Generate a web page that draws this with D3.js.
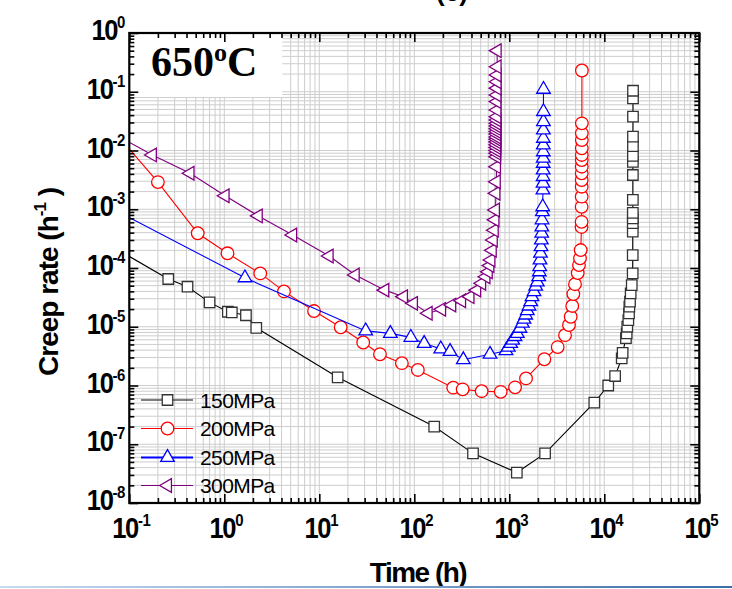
<!DOCTYPE html>
<html>
<head>
<meta charset="utf-8">
<script src="https://cdn.jsdelivr.net/npm/d3@7"></script>
<style>
body { margin: 0; background: #fff; }
svg { display: block; }
</style>
</head>
<body>
<svg id="chart" width="732" height="589"></svg>
<script>
// [time (h), creep rate (1/h)]
const s150 = [[0.07,2.2e-4],[0.257,6.5e-5],[0.41,4.8e-5],[0.70,2.6e-5],[1.09,1.8e-5],[1.2,1.75e-5],[1.69,1.57e-5],[2.17,9.6e-6],[15.6,1.38e-6],[162,2.0e-7],[415,7.0e-8],[1200,3.3e-8],[2380,7.0e-8],[7850,5.1e-7],[11000,1.0e-6],[13000,1.45e-6],[15250,2.9e-6],[15600,3.6e-6],[16900,6.4e-6],[17200,7.7e-6],[17450,1.0e-5],[17900,1.3e-5],[18200,1.69e-5],[18350,2.2e-5],[18650,2.67e-5],[18950,3.7e-5],[19450,5.1e-5],[19900,8.1e-5],[19920,1.66e-4],[19940,4.15e-4],[19950,5.8e-4],[19960,7.0e-4],[19970,8.7e-4],[19980,1.44e-3],[19990,3.83e-3],[20000,6.4e-3],[20010,8.1e-3],[20020,1.19e-2],[20030,1.72e-2],[20040,3.76e-2],[20050,7.7e-2],[20060,0.104]];
const s200 = [[0.07,2.07e-2],[0.2,2.9e-3],[0.525,3.9e-4],[1.08,1.78e-4],[2.39,8.1e-5],[4.25,4.0e-5],[8.8,1.85e-5],[16.8,9.8e-6],[29,5.4e-6],[43.5,3.4e-6],[74,2.4e-6],[109,1.84e-6],[257,9.2e-7],[323,8.6e-7],[512,8.0e-7],[812,7.8e-7],[1150,9.3e-7],[1500,1.32e-6],[2340,2.8e-6],[3230,4.5e-6],[3860,7.2e-6],[4250,1.07e-5],[4430,1.48e-5],[4600,2.26e-5],[4720,3.6e-5],[4915,5.3e-5],[5250,8.2e-5],[5415,1.12e-4],[5550,1.46e-4],[5645,2.02e-4],[5760,5.0e-4],[5770,6.1e-4],[5775,1.1e-3],[5780,1.64e-3],[5780,2.42e-3],[5785,3.15e-3],[5785,4.1e-3],[5790,5.3e-3],[5790,6.9e-3],[5795,8.4e-3],[5795,1.09e-2],[5800,1.51e-2],[5800,1.96e-2],[5805,2.9e-2],[5810,0.23]];
const s250 = [[0.07,9.8e-4],[1.65,6.8e-5],[30.8,8.5e-6],[56,7.7e-6],[92,6.6e-6],[127,5.2e-6],[190,4.2e-6],[238,3.8e-6],[328,2.75e-6],[627,3.4e-6],[923,3.9e-6],[975,4.5e-6],[1034,5.2e-6],[1086,5.9e-6],[1148,6.8e-6],[1214,7.7e-6],[1296,9.4e-6],[1370,1.15e-5],[1428,1.34e-5],[1488,1.58e-5],[1547,1.88e-5],[1612,2.25e-5],[1680,2.67e-5],[1734,3.25e-5],[1820,3.95e-5],[1897,4.9e-5],[1971,5.8e-5],[2040,7.1e-5],[2070,8.6e-5],[2090,1.05e-4],[2105,1.37e-4],[2130,1.78e-4],[2158,2.3e-4],[2175,3.0e-4],[2194,3.9e-4],[2200,5.0e-4],[2210,6.6e-4],[2230,9.1e-4],[2247,1.1e-3],[2260,2.13e-3],[2265,2.77e-3],[2270,3.6e-3],[2272,4.66e-3],[2274,6.05e-3],[2276,7.4e-3],[2278,9.5e-3],[2280,1.24e-2],[2282,1.61e-2],[2284,2.23e-2],[2286,3.1e-2],[2288,4.6e-2],[2290,0.11]];
const s300 = [[0.07,1.88e-2],[0.175,8.4e-3],[0.436,4.1e-3],[1.02,1.7e-3],[2.28,7.7e-4],[5.25,3.65e-4],[12.7,1.6e-4],[23.9,7.6e-5],[49,4.2e-5],[77,3.25e-5],[98,2.5e-5],[140,1.7e-5],[194,1.98e-5],[248,2.34e-5],[315,2.77e-5],[386,3.25e-5],[454,4.2e-5],[512,5.5e-5],[568,7.1e-5],[601,8.6e-5],[625,1.1e-4],[641,1.37e-4],[662,2.0e-4],[679,3.0e-4],[695,4.4e-4],[707,6.6e-4],[715,9.7e-4],[724,1.87e-3],[730,2.94e-3],[734,5.3e-3],[736,7.8e-3],[737,9.0e-3],[737,1.0e-2],[738,1.12e-2],[738,1.25e-2],[738,1.4e-2],[739,1.55e-2],[739,1.7e-2],[739,1.9e-2],[740,2.1e-2],[740,2.35e-2],[740,2.6e-2],[741,2.9e-2],[741,3.3e-2],[741,3.76e-2],[742,4.9e-2],[742,6.8e-2],[743,8.8e-2],[743,0.115],[744,0.148],[744,0.193],[745,0.267],[746,0.5]];

const seriesNames = ['150MPa', '200MPa', '250MPa', '300MPa'];
const xTickExps = [-1, 0, 1, 2, 3, 4, 5];
const yTickExps = [0, -1, -2, -3, -4, -5, -6, -7, -8];

const series = [
    { name: seriesNames[0], data: s150, color: '#000', stroke: '#333', symbol: d3.symbolSquare, size: 110, rot: 0 },
    { name: seriesNames[1], data: s200, color: '#ff0000', stroke: '#ff0000', symbol: d3.symbolCircle, size: 125, rot: 0 },
    { name: seriesNames[2], data: s250, color: '#0000ff', stroke: '#0000ff', symbol: d3.symbolTriangle, size: 80, rot: 0 },
    { name: seriesNames[3], data: s300, color: '#800080', stroke: '#800080', symbol: d3.symbolTriangle, size: 80, rot: -90 }
];

const svg = d3.select('#chart');
const L = 129.3, R = 699.3, T = 33, B = 503;
const x = d3.scaleLog().domain([0.1, 1e5]).range([L, R]);
const y = d3.scaleLog().domain([1e-8, 1]).range([B, T]);

const isMajor = d => Math.abs(Math.log10(d) - Math.round(Math.log10(d))) < 1e-9;
const xAll = x.ticks(), yAll = y.ticks();
const xMajor = xAll.filter(isMajor), xMinor = xAll.filter(d => !isMajor(d));
const yMajor = yAll.filter(isMajor), yMinor = yAll.filter(d => !isMajor(d));

// grid
const grid = svg.append('g').attr('stroke', '#cdcdcd').attr('stroke-width', 1);
grid.selectAll('.gx').data(xAll).join('line')
    .attr('x1', d => x(d)).attr('x2', d => x(d)).attr('y1', T).attr('y2', B);
grid.selectAll('.gy').data(yAll).join('line')
    .attr('x1', L).attr('x2', R).attr('y1', d => y(d)).attr('y2', d => y(d));

// white box behind the temperature label
svg.append('rect').attr('x', L + 1).attr('y', T + 1).attr('width', 152).attr('height', 63).attr('fill', '#fff');

// clip
svg.append('clipPath').attr('id', 'plotClip').append('rect')
    .attr('x', L).attr('y', T).attr('width', R - L).attr('height', B - T);

const line = d3.line().x(d => x(d[0])).y(d => y(d[1]));
const plot = svg.append('g').attr('clip-path', 'url(#plotClip)');

series.forEach(s => {
    plot.append('path').datum(s.data)
        .attr('fill', 'none').attr('stroke', s.color).attr('stroke-width', 1.1)
        .attr('d', line);
    plot.selectAll(null).data(s.data).join('path')
        .attr('d', d3.symbol().type(s.symbol).size(s.size))
        .attr('transform', d => `translate(${x(d[0])},${y(d[1])}) rotate(${s.rot})`)
        .attr('fill', '#fff').attr('stroke', s.stroke).attr('stroke-width', 1.3);
});

// axes ticks (inward, all four sides)
function ticks(axisFn, vals, size, tr) {
    const g = svg.append('g').attr('transform', tr)
        .call(axisFn.tickValues(vals).tickSize(size).tickFormat(''));
    g.select('.domain').remove();
    g.selectAll('line').attr('stroke', '#000').attr('stroke-width', 1.6);
}
ticks(d3.axisBottom(x), xMajor, -9, `translate(0,${B})`);
ticks(d3.axisBottom(x), xMinor, -5, `translate(0,${B})`);
ticks(d3.axisTop(x), xMajor, -9, `translate(0,${T})`);
ticks(d3.axisTop(x), xMinor, -5, `translate(0,${T})`);
ticks(d3.axisLeft(y), yMajor, -9, `translate(${L},0)`);
ticks(d3.axisLeft(y), yMinor, -5, `translate(${L},0)`);
ticks(d3.axisRight(y), yMajor, -9, `translate(${R},0)`);
ticks(d3.axisRight(y), yMinor, -5, `translate(${R},0)`);

svg.append('rect').attr('x', L).attr('y', T).attr('width', R - L).attr('height', B - T)
    .attr('fill', 'none').attr('stroke', '#000').attr('stroke-width', 2.2);

// tick labels
const labelFont = "'Liberation Sans', Arial, sans-serif";
function powLabel(g, e, anchor) {
    const t = g.append('text').attr('font-family', labelFont).attr('font-weight', 'bold')
        .attr('font-size', 29).attr('text-anchor', anchor).attr('letter-spacing', -1.5);
    t.append('tspan').text('10');
    t.append('tspan').attr('font-size', 17).attr('dy', -12).attr('letter-spacing', -0.5).text(e);
}
xTickExps.forEach(e => {
    const g = svg.append('g').attr('transform', `translate(${x(Math.pow(10, e)) + 2},538) scale(0.88,1)`);
    powLabel(g, e, 'middle');
});
yTickExps.forEach(e => {
    const g = svg.append('g').attr('transform', `translate(125,${y(Math.pow(10, e)) + 7}) scale(0.88,1)`);
    powLabel(g, e, 'end');
});

// axis titles
svg.append('text').attr('x', 418).attr('y', 582)
    .attr('font-family', labelFont).attr('font-weight', 'bold').attr('font-size', 28)
    .attr('text-anchor', 'middle').attr('letter-spacing', -1.5).text('Time (h)');

const yt = svg.append('text').attr('transform', 'translate(58,282) rotate(-90)')
    .attr('font-family', labelFont).attr('font-weight', 'bold').attr('font-size', 28)
    .attr('text-anchor', 'middle').attr('letter-spacing', -1);
yt.append('tspan').text('Creep rate (h');
yt.append('tspan').attr('font-size', 17).attr('dy', -12).text('-1');
yt.append('tspan').attr('dy', 12).text(' )');

// title (cut at the top in the original)
svg.append('text').attr('x', 452).attr('y', 1)
    .attr('font-family', labelFont).attr('font-weight', 'bold').attr('font-size', 26)
    .attr('text-anchor', 'middle').text('(c)');

// temperature label
const tl = svg.append('text').attr('x', 151).attr('y', 76)
    .attr('font-family', "'Liberation Serif', 'Times New Roman', serif").attr('font-weight', 'bold')
    .attr('font-size', 42);
tl.append('tspan').text('650');
tl.append('tspan').attr('font-size', 26).attr('dy', -15).text('o');
tl.append('tspan').attr('dy', 15).text('C');

// legend
const legY = [400, 428.5, 457.5, 485.5];
series.forEach((s, i) => {
    const g = svg.append('g').attr('transform', `translate(0,${legY[i]})`);
    g.append('line').attr('x1', 141).attr('x2', 193).attr('y1', 0).attr('y2', 0)
        .attr('stroke', s.color).attr('stroke-width', i === 2 ? 2 : 1.1);
    g.append('path').attr('d', d3.symbol().type(s.symbol).size(s.size))
        .attr('transform', `translate(167.5,0) rotate(${s.rot})`)
        .attr('fill', '#fff').attr('stroke', s.stroke).attr('stroke-width', 1.3);
    g.append('text').attr('x', 200).attr('y', 7.5)
        .attr('font-family', labelFont).attr('font-size', 21).attr('letter-spacing', -0.6).text(s.name);
});

// thin slide line at the bottom
const grad = svg.append('defs').append('linearGradient').attr('id', 'bar');
grad.append('stop').attr('offset', '0%').attr('stop-color', '#c4dcf2');
grad.append('stop').attr('offset', '100%').attr('stop-color', '#3d6ea8');
svg.append('rect').attr('x', 0).attr('y', 586).attr('width', 732).attr('height', 2).attr('fill', 'url(#bar)');
</script>
</body>
</html>
